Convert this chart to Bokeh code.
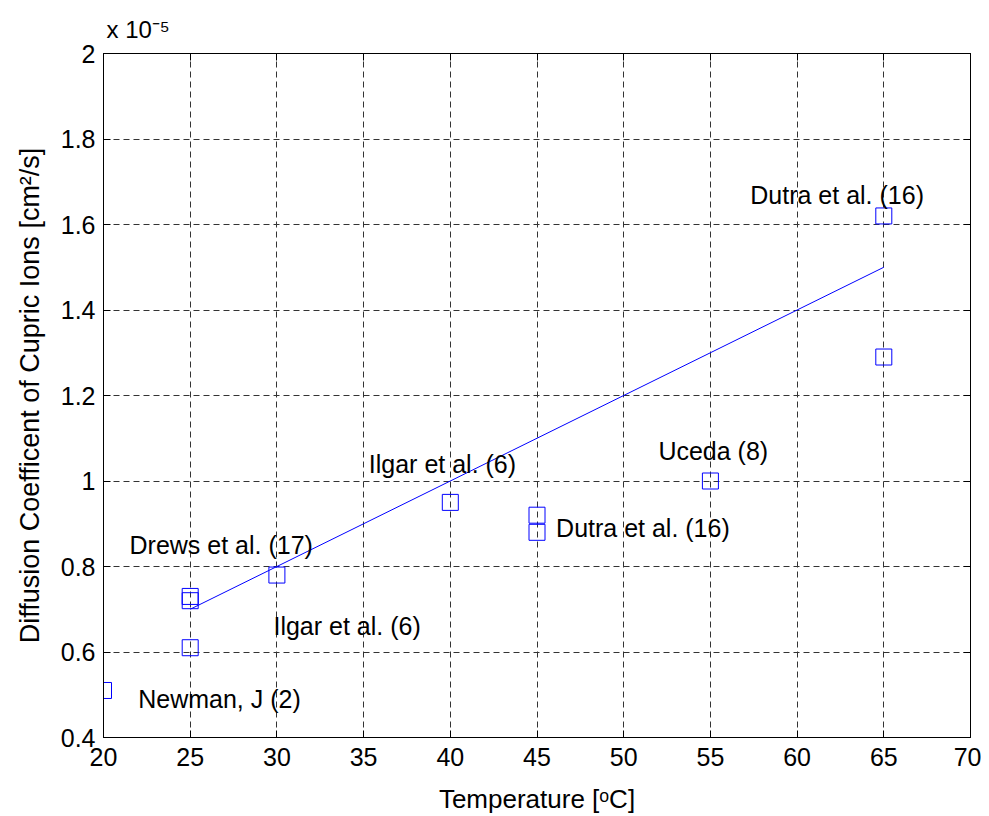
from bokeh.plotting import figure
from bokeh.models import (ColumnDataSource, LinearAxis, FixedTicker, CustomJSTickFormatter, Range1d)
from bokeh.core.properties import value
from bokeh.embed import file_html
from bokeh.resources import INLINE

# ---- data (diffusion coefficient in units of 1e-5 cm^2/s) ----
temp_c = [20, 25, 25, 25, 30, 40, 45, 45, 55, 65, 65]
diff_coef = [0.51, 0.61, 0.72, 0.73, 0.78, 0.95, 0.92, 0.88, 1.00, 1.62, 1.29]

fit_temp = [25, 65]
fit_coef = [0.70, 1.50]

label_text = ["Drews et al. (17)", "Ilgar et al. (6)", "Newman, J (2)", "Ilgar et al. (6)",
              "Dutra et al. (16)", "Uceda (8)", "Dutra et al. (16)"]
label_x = [21.5, 29.8, 22.0, 35.3, 46.1, 52.0, 57.3]
label_y = [0.85, 0.66, 0.49, 1.04, 0.89, 1.07, 1.67]

x_ticks = [20, 25, 30, 35, 40, 45, 50, 55, 60, 65, 70]
y_ticks = [0.4, 0.6, 0.8, 1.0, 1.2, 1.4, 1.6, 1.8, 2.0]

FONT = "Liberation Sans"

p = figure(width=981, height=816, output_backend="svg", toolbar_location=None,
           x_range=Range1d(20, 70), y_range=Range1d(0.4, 2.0),
           min_border_left=103, min_border_top=53, min_border_right=11, min_border_bottom=79,
           background_fill_color="white", border_fill_color="white",
           title="x 10\u207b\u2075", title_location="above")
p.outline_line_color = "black"
p.outline_line_width = 1
p.title.align = "left"
p.title.offset = 3
p.title.standoff = 21
p.title.text_font = FONT
p.title.text_font_size = "24px"
p.title.text_font_style = "normal"
p.title.text_color = "black"

fmt = CustomJSTickFormatter(code="return String(Math.round(tick*10)/10);")

for ax in (p.xaxis[0], p.yaxis[0]):
    ax.major_tick_in = 7
    ax.major_tick_out = 0
    ax.minor_tick_in = 0
    ax.minor_tick_out = 0
    ax.major_label_text_font = FONT
    ax.major_label_text_font_size = "25px"
    ax.major_label_text_color = "black"
    ax.axis_label_text_font = FONT
    ax.axis_label_text_font_style = "normal"
    ax.axis_label_text_color = "black"
    ax.axis_line_color = "black"
    ax.major_tick_line_color = "black"

p.xaxis[0].ticker = FixedTicker(ticks=x_ticks)
p.yaxis[0].ticker = FixedTicker(ticks=y_ticks)
p.yaxis[0].formatter = fmt
p.xaxis[0].axis_label = "Temperature [\u1d52C]"
p.yaxis[0].axis_label = "Diffusion Coefficent of Cupric Ions [cm\u00b2/s]"
p.xaxis[0].axis_label_text_font_size = "26px"
p.yaxis[0].axis_label_text_font_size = "27px"
p.xaxis[0].major_label_standoff = 10
p.xaxis[0].axis_label_standoff = 15
p.yaxis[0].major_label_standoff = 8
p.yaxis[0].axis_label_standoff = 13

# mirrored axes (box with inward ticks, no labels)
top_ax = LinearAxis(ticker=FixedTicker(ticks=x_ticks), major_tick_in=7, major_tick_out=0,
                    minor_tick_in=0, minor_tick_out=0, major_label_text_font_size="1px",
                    major_label_text_color=None, major_label_standoff=0,
                    axis_line_color="black")
right_ax = LinearAxis(ticker=FixedTicker(ticks=y_ticks), major_tick_in=7, major_tick_out=0,
                      minor_tick_in=0, minor_tick_out=0, major_label_text_font_size="1px",
                      major_label_text_color=None, major_label_standoff=0,
                      axis_line_color="black")
p.add_layout(top_ax, "above")
p.add_layout(right_ax, "right")

p.xgrid.ticker = FixedTicker(ticks=x_ticks)
p.ygrid.ticker = FixedTicker(ticks=y_ticks)
for g in (p.xgrid[0], p.ygrid[0]):
    g.grid_line_color = "#333333"
    g.grid_line_dash = "6 4"
    g.grid_line_width = 1

src = ColumnDataSource(dict(x=temp_c, y=diff_coef))
p.line(fit_temp, fit_coef, line_color="#0000ff", line_width=1)
p.scatter("x", "y", source=src, marker="square", size=16, fill_color=None,
          line_color="#0000ff", line_width=1)

lsrc = ColumnDataSource(dict(x=label_x, y=label_y, t=label_text))
p.text("x", "y", text="t", source=lsrc, text_font=value(FONT), text_font_size="25px",
       text_color="black", text_align="left", text_baseline="alphabetic")

open("out.html", "w").write(file_html(p, INLINE))
